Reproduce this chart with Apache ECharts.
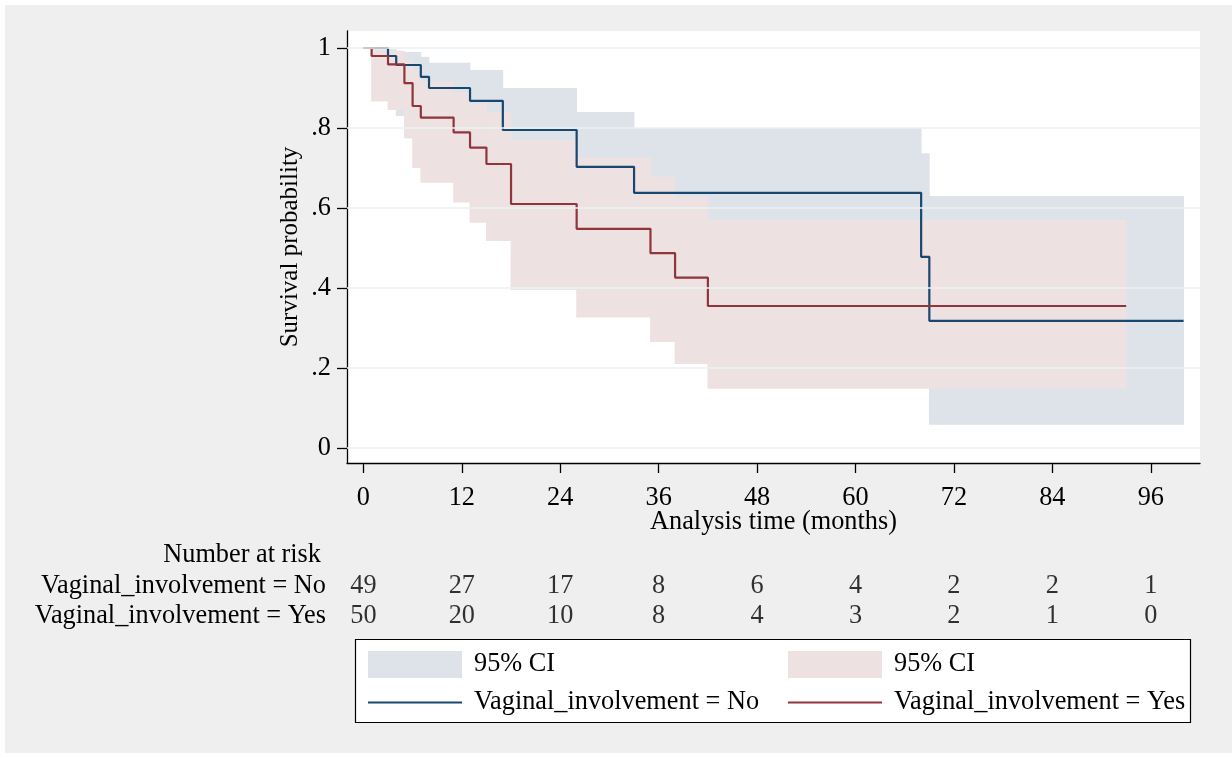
<!DOCTYPE html>
<html>
<head>
<meta charset="utf-8">
<title>Kaplan-Meier survival estimates</title>
<script src="https://cdn.jsdelivr.net/npm/echarts@6/dist/echarts.min.js"></script>
<style>
  html, body { margin: 0; padding: 0; background: #ffffff; }
  #chart { width: 1232px; height: 758px; }
</style>
</head>
<body>
<div id="chart"></div>
<script>
// Kaplan-Meier estimates, step values hold from each time until the next one
const noTimes  = [0, 3, 4, 7, 8, 13, 17, 26, 33, 68, 69, 100];
const noSurv   = [1, 0.98, 0.9575, 0.928, 0.90, 0.868, 0.795, 0.703, 0.638, 0.478, 0.318, 0.318];
const noLower  = [1, 0.87, 0.83, 0.80, 0.77, 0.73, 0.62, 0.50, 0.42, 0.26, 0.058, 0.058];
const noUpper  = [1, 0.997, 0.99, 0.978, 0.963, 0.945, 0.90, 0.84, 0.80, 0.737, 0.63, 0.63];

const yesTimes = [0, 1, 3, 5, 6, 7, 11, 13, 15, 18, 26, 35, 38, 42, 93];
const yesSurv  = [1, 0.98, 0.959, 0.912, 0.855, 0.826, 0.789, 0.751, 0.71, 0.61, 0.548, 0.487, 0.426, 0.355, 0.355];
const yesLower = [1, 0.866, 0.845, 0.774, 0.70, 0.663, 0.614, 0.563, 0.5175, 0.395, 0.326, 0.265, 0.21, 0.148, 0.148];
const yesUpper = [1, 0.997, 0.993, 0.97, 0.945, 0.916, 0.89, 0.862, 0.84, 0.77, 0.726, 0.678, 0.628, 0.57, 0.57];

// axis ticks
const xTicks = [0, 12, 24, 36, 48, 60, 72, 84, 96];
const yTicks = [0, 0.2, 0.4, 0.6, 0.8, 1];
const yTickLabels = ['0', '.2', '.4', '.6', '.8', '1'];

// number at risk table
const riskRows = ['Vaginal_involvement = No', 'Vaginal_involvement = Yes'];
const riskNo   = [49, 27, 17, 8, 6, 4, 2, 2, 1];
const riskYes  = [50, 20, 10, 8, 4, 3, 2, 1, 0];

const legendText = {
  ciNo: '95% CI',
  ciYes: '95% CI',
  lineNo: 'Vaginal_involvement = No',
  lineYes: 'Vaginal_involvement = Yes'
};

const FONT = '"Liberation Serif", "Times New Roman", serif';
const FS = 26.3;
const FS_YTITLE = 25;
const NAVY = '#1a476f';
const MAROON = '#90353b';
const NAVY_CI = '#dde3e9';
const MAROON_CI = '#eee1e2';

function stepPairs(times, surv) {
  return times.map((t, i) => [t, surv[i]]);
}
function bandRows(times, lo, hi) {
  const rows = [];
  for (let i = 0; i < times.length - 1; i++) {
    if (hi[i] > lo[i]) rows.push([times[i], times[i + 1], lo[i], hi[i]]);
  }
  return rows;
}
function bandRenderer(color) {
  return function (params, api) {
    const a = api.coord([api.value(0), api.value(3)]);
    const b = api.coord([api.value(1), api.value(2)]);
    return {
      type: 'rect',
      shape: { x: a[0] - 0.4, y: a[1], width: b[0] - a[0] + 0.8, height: b[1] - a[1] },
      style: { fill: color }
    };
  };
}
function riskData(counts, row) {
  return xTicks.map((t, i) => [t, row, counts[i]]);
}

const axisLineStyle = { color: '#000', width: 1.3 };
const legendTextStyle = { fontFamily: FONT, fontSize: FS, color: '#000', lineHeight: 27, padding: [0, 0, 0, 7] };

const chart = echarts.init(document.getElementById('chart'), null, { renderer: 'canvas' });
chart.setOption({
  animation: false,
  backgroundColor: '#ffffff',
  textStyle: { fontFamily: FONT },
  graphic: [
    { type: 'rect', z: -100, silent: true,
      shape: { x: 5, y: 5, width: 1227, height: 748 },
      style: { fill: '#efefef' } },
    { type: 'rect', z: 3, silent: true,
      shape: { x: 355.5, y: 639.5, width: 835, height: 83 },
      style: { fill: '#ffffff', stroke: '#000000', lineWidth: 1.2 } },
    { type: 'text', z: 5, silent: true, x: 321, y: 555,
      style: { text: 'Number at risk', font: FS + 'px ' + FONT, fill: '#000',
               align: 'right', verticalAlign: 'middle' } }
  ],
  grid: [
    { left: 347, right: 32, top: 31, bottom: 295, show: true,
      backgroundColor: '#ffffff', borderWidth: 0 },
    { left: 347, right: 32, top: 571.5, height: 60, show: false }
  ],
  xAxis: [
    { type: 'value', gridIndex: 0, min: -2, max: 102,
      name: 'Analysis time (months)', nameLocation: 'middle', nameGap: 46, nameMoveOverlap: false,
      nameTextStyle: { fontFamily: FONT, fontSize: FS, color: '#000' },
      axisLine: { show: true, onZero: false, lineStyle: axisLineStyle },
      axisTick: { show: true, length: 10, lineStyle: axisLineStyle, customValues: xTicks },
      axisLabel: { customValues: xTicks, fontFamily: FONT, fontSize: FS, color: '#000', margin: 22 },
      splitLine: { show: false } },
    { type: 'value', gridIndex: 1, min: -2, max: 102, show: false }
  ],
  yAxis: [
    { type: 'value', gridIndex: 0, min: -0.0375, max: 1.0425,
      name: 'Survival probability', nameLocation: 'middle', nameGap: 44, nameMoveOverlap: false,
      nameTextStyle: { fontFamily: FONT, fontSize: FS_YTITLE, color: '#000' },
      axisLine: { show: true, onZero: false, lineStyle: axisLineStyle },
      axisTick: { show: true, length: 10, lineStyle: axisLineStyle, customValues: yTicks },
      axisLabel: { customValues: yTicks, fontFamily: FONT, fontSize: FS, color: '#000', margin: 16,
                   formatter: v => yTickLabels[yTicks.findIndex(t => Math.abs(t - v) < 1e-6)] },
      splitLine: { show: false } },
    { type: 'category', gridIndex: 1, data: riskRows, inverse: true,
      axisLine: { show: false }, axisTick: { show: false },
      axisLabel: { interval: 0, fontFamily: FONT, fontSize: FS, color: '#000', margin: 21 } }
  ],
  legend: [
    { left: 362, top: 646, orient: 'vertical', itemWidth: 94, itemHeight: 27, itemGap: 11,
      selectedMode: false,
      data: [{ name: 'ciNo', icon: 'rect' }, { name: 'lineNo', itemStyle: { opacity: 0 } }],
      formatter: n => legendText[n], textStyle: legendTextStyle },
    { left: 782, top: 646, orient: 'vertical', itemWidth: 94, itemHeight: 27, itemGap: 11,
      selectedMode: false,
      data: [{ name: 'ciYes', icon: 'rect' }, { name: 'lineYes', itemStyle: { opacity: 0 } }],
      formatter: n => legendText[n], textStyle: legendTextStyle }
  ],
  series: [
    { // horizontal gridlines at the y ticks
      type: 'line', xAxisIndex: 0, yAxisIndex: 0, data: [], z: 1, silent: true,
      markLine: { silent: true, symbol: 'none', label: { show: false },
                  lineStyle: { color: '#eaf2f3', width: 1.6, type: 'solid' },
                  data: yTicks.map(v => ({ yAxis: v })) } },
    { name: 'ciNo', type: 'custom', xAxisIndex: 0, yAxisIndex: 0, z: 2, silent: true,
      itemStyle: { color: NAVY_CI },
      encode: { x: [0, 1], y: [2, 3] },
      renderItem: bandRenderer(NAVY_CI),
      data: bandRows(noTimes, noLower, noUpper) },
    { name: 'ciYes', type: 'custom', xAxisIndex: 0, yAxisIndex: 0, z: 2, silent: true,
      itemStyle: { color: MAROON_CI },
      encode: { x: [0, 1], y: [2, 3] },
      renderItem: bandRenderer(MAROON_CI),
      data: bandRows(yesTimes, yesLower, yesUpper) },
    { name: 'lineNo', type: 'line', xAxisIndex: 0, yAxisIndex: 0, z: 3, step: 'end',
      symbol: 'none', color: NAVY, lineStyle: { color: NAVY, width: 2.2 },
      data: stepPairs(noTimes, noSurv) },
    { name: 'lineYes', type: 'line', xAxisIndex: 0, yAxisIndex: 0, z: 3, step: 'end',
      symbol: 'none', color: MAROON, lineStyle: { color: MAROON, width: 2.2 },
      data: stepPairs(yesTimes, yesSurv) },
    { type: 'scatter', xAxisIndex: 1, yAxisIndex: 1, symbolSize: 1, silent: true,
      itemStyle: { color: 'rgba(0,0,0,0)' },
      label: { show: true, position: 'inside', formatter: p => String(p.value[2]),
               fontFamily: FONT, fontSize: FS, color: '#000' },
      data: riskData(riskNo, 0) },
    { type: 'scatter', xAxisIndex: 1, yAxisIndex: 1, symbolSize: 1, silent: true,
      itemStyle: { color: 'rgba(0,0,0,0)' },
      label: { show: true, position: 'inside', formatter: p => String(p.value[2]),
               fontFamily: FONT, fontSize: FS, color: '#000' },
      data: riskData(riskYes, 1) }
  ]
});
</script>
</body>
</html>
